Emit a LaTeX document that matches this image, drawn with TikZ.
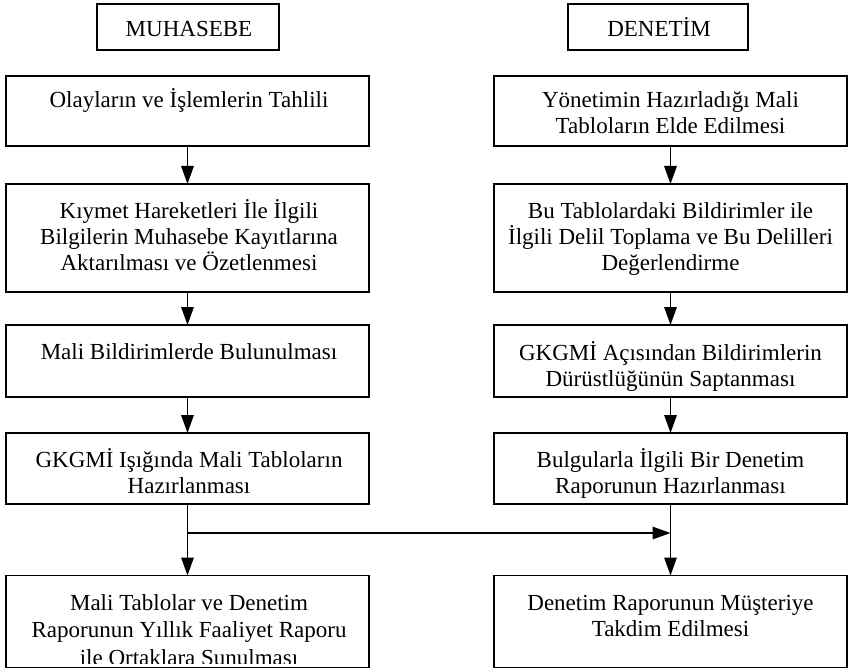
\documentclass[tikz,border=0pt]{standalone}
\usepackage{fontspec}
\setmainfont{Liberation Serif}
\usetikzlibrary{arrows.meta}
\begin{document}
\begin{tikzpicture}[x=1pt,y=-1pt,
  box/.style={draw, line width=1.6pt, inner sep=0pt, outer sep=0pt, rectangle},
  txt/.style={align=center, inner sep=0pt, anchor=base, font=\fontsize{23}{26}\selectfont},
  conn/.style={line width=1.5pt, -{Triangle[length=18pt,width=12.5pt]}}]
\useasboundingbox (0,0) rectangle (850,671);
% headers
\node[box, minimum width=182pt, minimum height=46pt] (H1) at (188,27) {};
\node[box, minimum width=180pt, minimum height=46pt] (H2) at (658,27) {};
\node[txt] (tH1) at (189,37) {MUHASEBE};
\node[txt] (tH2) at (659,37) {DENET\.{I}M};
% left column
\node[box, minimum width=363pt, minimum height=70pt] (L1) at (187.5,111) {};
\node[box, minimum width=363pt, minimum height=108pt] (L2) at (187.5,238) {};
\node[box, minimum width=363pt, minimum height=72pt] (L3) at (187.5,361) {};
\node[box, minimum width=363pt, minimum height=71pt] (L4) at (187.5,468.5) {};
\node[box, minimum width=363pt, minimum height=92pt] (L5) at (187.5,621.5) {};
% right column
\node[box, minimum width=353pt, minimum height=70pt] (R1) at (670.5,111) {};
\node[box, minimum width=353pt, minimum height=108pt] (R2) at (670.5,238) {};
\node[box, minimum width=353pt, minimum height=72pt] (R3) at (670.5,361) {};
\node[box, minimum width=353pt, minimum height=71pt] (R4) at (670.5,468.5) {};
\node[box, minimum width=353pt, minimum height=92pt] (R5) at (670.5,621.5) {};
% texts left (base anchor = baseline of last line)
\node[txt] (tL1) at (189,108) {Olayların ve İşlemlerin Tahlili};
\node[txt] (tL2) at (189,270) {Kıymet Hareketleri İle İlgili\\Bilgilerin Muhasebe Kayıtlarına\\Aktarılması ve Özetlenmesi};
\node[txt] (tL3) at (189,359) {Mali Bildirimlerde Bulunulması};
\node[txt] (tL4) at (189,493) {GKGMİ Işığında Mali Tabloların\\Hazırlanması};
\begin{scope}
\clip (6,575) rectangle (369,663);
\node[txt, font=\fontsize{23}{27.5}\selectfont] (tL5) at (189,665) {Mali Tablolar ve Denetim\\Raporunun Yıllık Faaliyet Raporu\\ile Ortaklara Sunulması};
\end{scope}
% texts right
\node[txt] (tR1) at (670.5,134) {Yönetimin Hazırladığı Mali\\Tabloların Elde Edilmesi};
\node[txt] (tR2) at (670.5,270) {Bu Tablolardaki Bildirimler ile\\İlgili Delil Toplama ve Bu Delilleri\\Değerlendirme};
\node[txt] (tR3) at (670.5,386) {GKGMİ Açısından Bildirimlerin\\Dürüstlüğünün Saptanması};
\node[txt] (tR4) at (670.5,493) {Bulgularla İlgili Bir Denetim\\Raporunun Hazırlanması};
\node[txt] (tR5) at (670.5,636) {Denetim Raporunun Müşteriye\\Takdim Edilmesi};
% connectors
\draw[conn] (L1.south) -- (L2.north);
\draw[conn] (L2.south) -- (L3.north);
\draw[conn] (L3.south) -- (L4.north);
\draw[conn] (L4.south) -- (L5.north);
\draw[conn] (R1.south) -- (R2.north);
\draw[conn] (R2.south) -- (R3.north);
\draw[conn] (R3.south) -- (R4.north);
\draw[conn] (R4.south) -- (R5.north);
\coordinate (jl) at (L4.south |- 0,533);
\coordinate (jr) at (R4.south |- 0,533);
\draw[conn] (jl) -- (jr);
\end{tikzpicture}
\end{document}
